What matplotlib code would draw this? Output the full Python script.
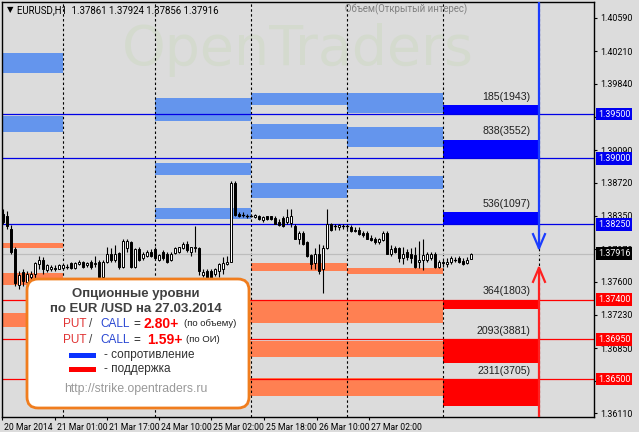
import matplotlib
matplotlib.use("Agg")
import matplotlib.pyplot as plt
from matplotlib.patches import Rectangle, FancyBboxPatch
import matplotlib.transforms as mtransforms

# ---------------- data ----------------
opens = [1.3837,1.3835,1.3820,1.3797,1.3756,1.3771,1.3760,1.3765,1.3769,1.3780,
         1.3785,1.3773,1.3774,1.3776,1.3775,1.3776,1.3777,1.3781,1.3776,1.3780,
         1.3782,1.3779,1.3783,1.3780,1.3783,1.3766,1.3783,1.3792,1.3785,1.3793,
         1.3777,1.3798,1.3805,1.3777,1.3797,1.3787,1.3789,1.3794,1.3797,1.3785,
         1.3794,1.3792,1.3785,1.3793,1.3794,1.3798,1.3803,1.3794,1.3798,1.3798,
         1.3768,1.3772,1.3772,1.3769,1.3772,1.3775,1.3780,1.3783,1.3872,1.3837,
         1.3836,1.3835,1.3835,1.3833,1.3834,1.3830,1.3834,1.3834,1.3832,1.3828,
         1.3832,1.3828,1.3827,1.3823,1.3809,1.3815,1.3805,1.3790,1.3781,1.3792,
         1.3774,1.3798,1.3825,1.3823,1.3822,1.3823,1.3823,1.3822,1.3819,1.3819,
         1.3815,1.3815,1.3810,1.3809,1.3805,1.3807,1.3815,1.3792,1.3798,1.3798,
         1.3787,1.3794,1.3792,1.3790,1.3782,1.3785,1.3785,1.3787,1.3792,1.3777,
         1.3783,1.3780,1.3782,1.3785,1.3787,1.3784,1.3781,1.37861]
highs = [1.3843,1.3840,1.3824,1.3800,1.3772,1.3774,1.3772,1.3772,1.3782,1.3789,
         1.3788,1.3780,1.3779,1.3779,1.3780,1.3780,1.3780,1.3783,1.3782,1.3785,
         1.3784,1.3783,1.3785,1.3789,1.3785,1.3785,1.3800,1.3798,1.3802,1.3794,
         1.3808,1.3809,1.3806,1.3798,1.3800,1.3794,1.3796,1.3797,1.3800,1.3791,
         1.3796,1.3794,1.3794,1.3799,1.3800,1.3805,1.3806,1.3799,1.3823,1.3799,
         1.3774,1.3774,1.3774,1.3776,1.3781,1.3788,1.3789,1.3874,1.3874,1.3839,
         1.3839,1.3837,1.3837,1.3837,1.3836,1.3834,1.3835,1.3835,1.3835,1.3831,
         1.3834,1.3842,1.3843,1.3826,1.3817,1.3817,1.3806,1.3792,1.3798,1.3803,
         1.3802,1.3842,1.3827,1.3826,1.3825,1.3825,1.3825,1.3824,1.3822,1.3822,
         1.3817,1.3817,1.3813,1.3811,1.3810,1.3817,1.3817,1.3802,1.3801,1.3800,
         1.3799,1.3797,1.3798,1.3800,1.3806,1.3808,1.3794,1.3794,1.3794,1.3785,
         1.3785,1.3787,1.3789,1.3788,1.3789,1.3787,1.3788,1.37924]
lows = [1.3825,1.3820,1.3792,1.3755,1.3752,1.3755,1.3755,1.3761,1.3764,1.3775,
        1.3769,1.3771,1.3772,1.3772,1.3774,1.3774,1.3775,1.3775,1.3774,1.3779,
        1.3776,1.3777,1.3775,1.3777,1.3764,1.3761,1.3781,1.3783,1.3782,1.3774,
        1.3776,1.3794,1.3776,1.3776,1.3784,1.3785,1.3788,1.3788,1.3785,1.3784,
        1.3785,1.3781,1.3784,1.3792,1.3793,1.3797,1.3794,1.3789,1.3794,1.3768,
        1.3765,1.3760,1.3760,1.3767,1.3766,1.3769,1.3779,1.3782,1.3835,1.3833,
        1.3833,1.3832,1.3833,1.3832,1.3830,1.3828,1.3830,1.3830,1.3825,1.3823,
        1.3822,1.3826,1.3822,1.3808,1.3803,1.3802,1.3788,1.3775,1.3774,1.3769,
        1.3747,1.3797,1.3817,1.3819,1.3819,1.3820,1.3820,1.3816,1.3816,1.3813,
        1.3811,1.3808,1.3806,1.3803,1.3803,1.3806,1.3791,1.3789,1.3793,1.3783,
        1.3780,1.3785,1.3781,1.3776,1.3776,1.3773,1.3783,1.3785,1.3776,1.3776,
        1.3777,1.3777,1.3780,1.3782,1.3781,1.3779,1.3780,1.37856]
closes = [1.3828,1.3823,1.3794,1.3759,1.3768,1.3761,1.3769,1.3769,1.3781,1.3785,
          1.3774,1.3779,1.3777,1.3774,1.3779,1.3779,1.3777,1.3776,1.3781,1.3783,
          1.3777,1.3781,1.3777,1.3781,1.3766,1.3783,1.3792,1.3785,1.3792,1.3777,
          1.3806,1.3806,1.3777,1.3797,1.3785,1.3791,1.3794,1.3789,1.3787,1.3790,
          1.3787,1.3783,1.3792,1.3798,1.3799,1.3803,1.3796,1.3799,1.3799,1.3772,
          1.3771,1.3763,1.3763,1.3774,1.3780,1.3781,1.3783,1.3872,1.3836,1.3835,
          1.3836,1.3835,1.3835,1.3836,1.3831,1.3833,1.3831,1.3831,1.3826,1.3824,
          1.3823,1.3833,1.3834,1.3809,1.3815,1.3803,1.3789,1.3780,1.3792,1.3772,
          1.3798,1.3825,1.3819,1.3823,1.3824,1.3823,1.3823,1.3817,1.3818,1.3814,
          1.3813,1.3809,1.3807,1.3805,1.3808,1.3815,1.3792,1.3797,1.3794,1.3787,
          1.3791,1.3788,1.3787,1.3777,1.3785,1.3790,1.3791,1.3792,1.3777,1.3783,
          1.3781,1.3783,1.3787,1.3785,1.3783,1.3780,1.3785,1.37916]

x_tick_pos = [-0.2, 13, 26.05, 39.05, 52.05, 65.3, 78.4, 91.4]
x_tick_labels = ["20 Mar 2014", "21 Mar 01:00", "21 Mar 17:00", "24 Mar 10:00",
                 "25 Mar 02:00", "25 Mar 18:00", "26 Mar 10:00", "27 Mar 02:00"]
y_ticks = [1.40590, 1.40210, 1.39840, 1.39470, 1.39090, 1.38720, 1.38350,
           1.37970, 1.37600, 1.37230, 1.36850, 1.36480, 1.36110]

# option-level periods (bar index of period borders)
seg_edges = [-0.25, 15, 38, 62, 86, 110, 134]

# historical resistance levels (period index, low, high)
hres_seg = [0, 0, 2, 2, 2, 3, 3, 3, 4, 4, 4]
hres_lo = [1.3996, 1.3930, 1.3942, 1.3881, 1.3831, 1.3960, 1.3922, 1.3855, 1.3951, 1.3913, 1.3865]
hres_hi = [1.4019, 1.3948, 1.3968, 1.3895, 1.3844, 1.3974, 1.3939, 1.3872, 1.3974, 1.3935, 1.3880]
# historical support levels
hsup_seg = [0, 0, 0, 2, 2, 2, 3, 3, 3, 3, 4, 4, 4, 4]
hsup_lo = [1.3798, 1.3756, 1.3709, 1.3713, 1.3675, 1.3631, 1.3772, 1.3713, 1.3675, 1.3631, 1.3769, 1.3713, 1.3675, 1.3631]
hsup_hi = [1.3804, 1.3770, 1.3725, 1.3739, 1.3693, 1.3651, 1.3781, 1.3739, 1.3693, 1.3651, 1.3776, 1.3739, 1.3693, 1.3651]

# current day levels
cur_res_lo = [1.3950, 1.3900, 1.3825]
cur_res_hi = [1.3960, 1.3921, 1.3839]
cur_res_lab = ["185(1943)", "838(3552)", "536(1097)"]
cur_sup_lo = [1.3729, 1.3668, 1.3620]
cur_sup_hi = [1.3740, 1.3695, 1.3650]
cur_sup_lab = ["364(1803)", "2093(3881)", "2311(3705)"]

res_lines = [1.3950, 1.3900, 1.3825]
sup_lines = [1.3740, 1.3695, 1.3650]
bid = 1.37916
blue_tip = 1.3798
red_tip = 1.3776

# ---------------- style ----------------
BG = "#dcdcdc"
LBLUE = "#6495ed"
LRED = "#ff8052"
W, H = 639, 432
MT = "Roboto"

fig = plt.figure(figsize=(W / 100, H / 100), dpi=100, facecolor=BG)
ax = fig.add_axes([2 / W, 15 / H, 592 / W, 415 / H])
ax.set_facecolor(BG)
ax.set_xlim(-0.25, 147.75)
ax.set_ylim(1.36070, 1.40768)

# pixel transform for figure level items (origin bottom-left)
T = mtransforms.Affine2D().scale(0.01) + fig.dpi_scale_trans

# watermark
ax.text(0.50, 0.885, "OpenTraders", transform=ax.transAxes, ha="center", va="center",
        fontsize=40, color="#d4dace", family="DejaVu Sans", zorder=0.5)

# historical level bars
for s, lo, hi in zip(hres_seg, hres_lo, hres_hi):
    ax.add_patch(Rectangle((seg_edges[s], lo), seg_edges[s + 1] - seg_edges[s], hi - lo,
                           fc=LBLUE, ec="none", zorder=1))
for s, lo, hi in zip(hsup_seg, hsup_lo, hsup_hi):
    ax.add_patch(Rectangle((seg_edges[s], lo), seg_edges[s + 1] - seg_edges[s], hi - lo,
                           fc=LRED, ec="none", zorder=1))
# current day bars
x0, x1 = seg_edges[5], seg_edges[6]
for lo, hi, lab in zip(cur_res_lo, cur_res_hi, cur_res_lab):
    ax.add_patch(Rectangle((x0, lo), x1 - x0, hi - lo, fc="#0000ff", ec="none", zorder=1))
    ax.annotate(lab, (x1 - 2.1, hi), xytext=(0, 2.5), textcoords="offset points",
                ha="right", va="bottom", fontsize=7.6, color="#202020",
                family="Liberation Sans", zorder=6)
for lo, hi, lab in zip(cur_sup_lo, cur_sup_hi, cur_sup_lab):
    ax.add_patch(Rectangle((x0, lo), x1 - x0, hi - lo, fc="#ff0000", ec="none", zorder=1))
    ax.annotate(lab, (x1 - 2.1, hi), xytext=(0, 2.5), textcoords="offset points",
                ha="right", va="bottom", fontsize=7.6, color="#202020",
                family="Liberation Sans", zorder=6)

# period separators
for xe in seg_edges[1:]:
    ax.axvline(xe, color="black", lw=0.8, ls=(0, (2.2, 2.2)), zorder=2)

# horizontal level lines
for p in res_lines:
    ax.axhline(p, color="#0000e6", lw=0.9, zorder=2.5)
for p in sup_lines:
    ax.axhline(p, color="#ff0000", lw=0.9, zorder=2.5)
ax.axhline(bid, color="#bdbdbd", lw=0.9, zorder=2.2)

# candles
bw = 0.5
for i, (o, h, l, c) in enumerate(zip(opens, highs, lows, closes)):
    ax.plot([i, i], [l, h], color="black", lw=0.8, zorder=3, solid_capstyle="butt")
    if abs(c - o) < 1e-6:
        ax.plot([i - bw / 2 - 0.1, i + bw / 2 + 0.1], [o, o], color="black", lw=0.9, zorder=3.1)
    else:
        ax.add_patch(Rectangle((i - bw / 2, min(o, c)), bw, abs(c - o),
                               fc="white" if c > o else "black", ec="black", lw=0.7, zorder=3.1))

# arrows at the current period border
ax_x = seg_edges[6]
ytop, ybot = ax.get_ylim()[1], ax.get_ylim()[0]
ax.plot([ax_x, ax_x], [ytop, blue_tip], color="#1a3cff", lw=1.6, zorder=4)
ax.plot([ax_x - 1.5, ax_x, ax_x + 1.5], [blue_tip + 0.0016, blue_tip, blue_tip + 0.0016],
        color="#1a3cff", lw=1.6, zorder=4)
ax.plot([ax_x, ax_x], [ybot, red_tip], color="#ff2020", lw=1.6, zorder=4)
ax.plot([ax_x - 1.5, ax_x, ax_x + 1.5], [red_tip - 0.0016, red_tip, red_tip - 0.0016],
        color="#ff2020", lw=1.6, zorder=4)

# axes styling
for sp in ax.spines.values():
    sp.set_color("black")
    sp.set_linewidth(1.0)
ax.yaxis.tick_right()
ax.set_yticks(y_ticks)
ax.set_yticklabels(["%.5f" % v for v in y_ticks], family=MT)
ax.tick_params(axis="y", length=2.5, width=0.8, pad=2, labelsize=6.4, colors="black")
ax.set_xticks(x_tick_pos)
ax.set_xticklabels(x_tick_labels, ha="left", family=MT)
ax.tick_params(axis="x", length=2.5, width=0.8, pad=1.5, labelsize=6.2, colors="black")
shift = mtransforms.ScaledTranslation(2 / 100, 0, fig.dpi_scale_trans)
for lab in ax.get_xticklabels():
    lab.set_transform(lab.get_transform() + shift)

# highlighted price labels
blend = mtransforms.blended_transform_factory(ax.transAxes, ax.transData)
off = mtransforms.ScaledTranslation(4 / 100, 0, fig.dpi_scale_trans)
hl_prices = res_lines + sup_lines + [bid]
hl_colors = ["#0000f0"] * 3 + ["#ff0000"] * 3 + ["black"]
for p, col in zip(hl_prices, hl_colors):
    ax.text(1.0, p, "%.5f" % p, transform=blend + off, ha="left", va="center", fontsize=6.4,
            family=MT, color="white",
            bbox=dict(boxstyle="square,pad=0.22", fc=col, ec="none"),
            clip_on=False, zorder=10)

# header texts
fig.text(7, H - 10, "\u25bc", transform=T, fontsize=6, va="center", ha="left", color="black")
fig.text(17, H - 10, "EURUSD,H1  1.37861 1.37924 1.37856 1.37916", transform=T,
         fontsize=6.9, family=MT, va="center", ha="left", color="black")
fig.text(345, H - 9, "Объем(Открытый интерес)", transform=T, fontsize=6.9, family=MT,
         va="center", ha="left", color="#808080")

# legend box
box = FancyBboxPatch((27, H - 408), 222, 129, boxstyle="round,pad=0,rounding_size=11",
                     transform=T, fc="white", ec="#f07d1e", lw=2.0, zorder=20)
fig.add_artist(box)
LF = "Liberation Sans"
fig.text(136, H - 294, "Опционные уровни", transform=T, fontsize=9.5, fontweight="bold",
         family=LF, color="#404040", ha="center", va="center", zorder=21)
fig.text(136, H - 309, "по EUR /USD на 27.03.2014", transform=T, fontsize=9.5, fontweight="bold",
         family=LF, color="#404040", ha="center", va="center", zorder=21)
rows = [(H - 324, "2.80+", 144, "(по объему)", 184), (H - 340, "1.59+", 147, "(по ОИ)", 186)]
for yy, val, vx, note, nx in rows:
    fig.text(63, yy, "PUT", transform=T, fontsize=8.5, family=LF, color="#e03232",
             ha="left", va="center", zorder=21)
    fig.text(89, yy, "/", transform=T, fontsize=8.5, family=LF, color="#404040",
             ha="left", va="center", zorder=21)
    fig.text(100, yy, "CALL", transform=T, fontsize=8.5, family=LF, color="#2846d2",
             ha="left", va="center", zorder=21)
    fig.text(133, yy, "=", transform=T, fontsize=8.5, family=LF, color="#202020",
             ha="left", va="center", zorder=21)
    fig.text(vx, yy, val, transform=T, fontsize=10, fontweight="bold", family=LF,
             color="#ff0000", ha="left", va="center", zorder=21)
    fig.text(nx, yy, note, transform=T, fontsize=6.8, family=LF, color="#202020",
             ha="left", va="center", zorder=21)
fig.add_artist(Rectangle((69, H - 358), 27, 5, transform=T, fc="#0a32ff", ec="none", zorder=21))
fig.add_artist(Rectangle((69, H - 372), 27, 5, transform=T, fc="#ff0000", ec="none", zorder=21))
fig.text(104, H - 355, "- сопротивление", transform=T, fontsize=8.5, family=LF,
         color="#303030", ha="left", va="center", zorder=21)
fig.text(104, H - 369, "- поддержка", transform=T, fontsize=8.5, family=LF,
         color="#303030", ha="left", va="center", zorder=21)
fig.text(136, H - 389, "http://strike.opentraders.ru", transform=T, fontsize=8.8, family=LF,
         color="#999999", ha="center", va="center", zorder=21)

fig.savefig("out.png", dpi=100, facecolor=BG)
